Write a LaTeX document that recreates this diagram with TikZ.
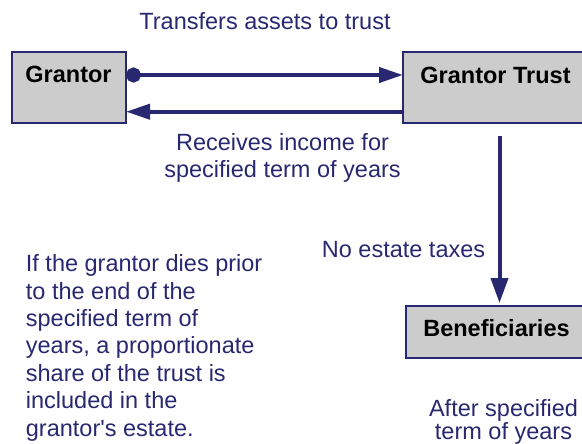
\documentclass[tikz,border=0pt]{standalone}
\usepackage{fontspec}
\setmainfont{Liberation Sans}[Ligatures=TeXOff]
\usetikzlibrary{arrows.meta}
\definecolor{navy}{RGB}{40,40,112}
\definecolor{boxgray}{RGB}{204,204,204}
\begin{document}
\begin{tikzpicture}[x=1pt,y=-1pt,
  box/.style={draw=navy, line width=2pt, fill=boxgray, rectangle, inner sep=0pt, outer sep=0pt, anchor=north west},
  boxtext/.style={text=black, font=\fontsize{23.5}{27.4}\selectfont\bfseries, inner sep=0pt},
  lbl/.style={text=navy, font=\fontsize{23.5}{27.4}\selectfont, inner sep=0pt},
  conn/.style={draw=navy, line width=4pt}
]
\useasboundingbox (0,0) rectangle (582,444);
% boxes
\node[box, minimum width=114pt, minimum height=71pt] (g) at (12,52) {};
\node[box, minimum width=187pt, minimum height=71pt] (t) at (403,52) {};
\node[box, minimum width=184pt, minimum height=52pt] (b) at (406,306) {};
\node[boxtext, anchor=base] (gl) at (68.5,83) {Grantor};
\node[boxtext, anchor=base] (tl) at (495.5,83.3) {Grantor Trust};
\node[boxtext, anchor=base] (bl) at (496.5,336.7) {Beneficiaries};
% connectors
\draw[conn, {Circle[length=15pt]}-{Triangle[length=24pt,width=15pt]}] (g.east |- 0,75) -- (t.west |- 0,75);
\draw[conn, -{Triangle[length=24pt,width=15pt]}] (t.west |- 0,111.7) -- (g.east |- 0,111.7);
\coordinate (vs) at (499.5,136);
\draw[conn, -{Triangle[length=25pt,width=17pt]}, shorten >=3pt] (vs) -- (b.north -| vs);
% labels
\node[lbl, anchor=base] (l1) at (265,30) {Transfers assets to trust};
\node[lbl, anchor=base] (l2) at (282.5,150) {\parbox[t]{260pt}{\centering Receives income for\\ specified term of years}};
\node[lbl, anchor=base west] (l3) at (321.7,257.3) {No estate taxes};
\node[lbl, anchor=base west] (l4) at (25.7,271.7) {\parbox[t]{270pt}{\raggedright If the grantor dies prior\\ to the end of the\\ specified term of\\ years, a proportionate\\ share of the trust is\\ included in the\\ grantor's estate.}};
\node[lbl, anchor=base] (l5) at (503.5,416) {\parbox[t]{170pt}{\fontsize{23.5}{23.3}\selectfont\centering After specified\\ term of years}};
\end{tikzpicture}
\end{document}
